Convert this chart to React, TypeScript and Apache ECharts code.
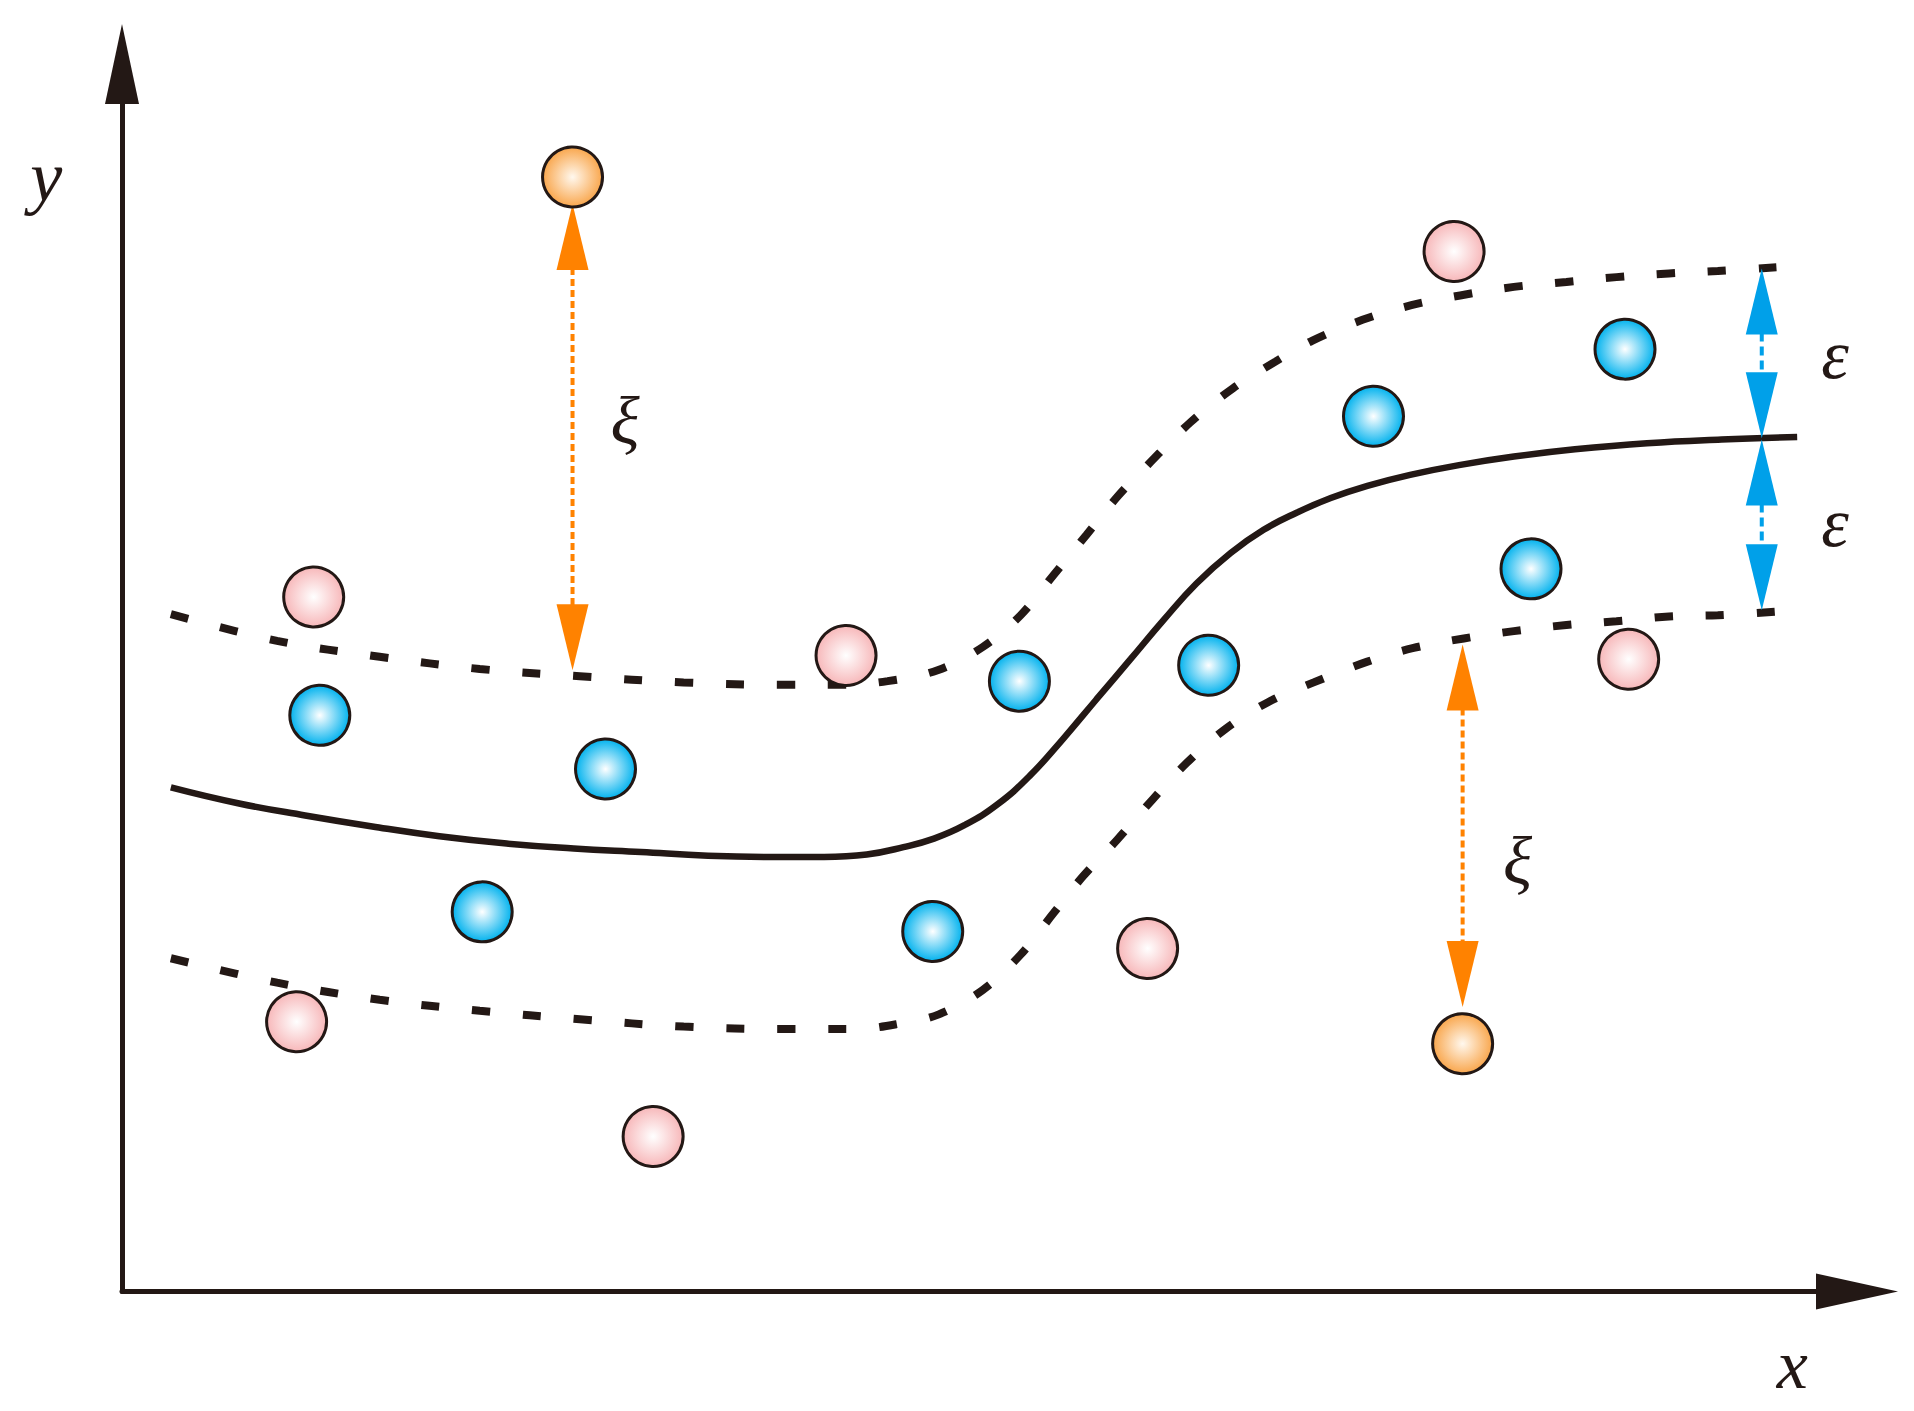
import React, { useEffect, useRef } from "react";
import * as echarts from "echarts";

// Data units: x 0..14.21, y 0..10.056
const centerCurve: [number, number][] = [
  [0.4, 4.13], [0.95, 4.0], [1.5, 3.9], [2.05, 3.81], [2.6, 3.73], [3.15, 3.67],
  [3.7, 3.63], [4.25, 3.6], [4.8, 3.57], [5.3, 3.56], [5.75, 3.56], [6.1, 3.58],
  [6.4, 3.64], [6.65, 3.71], [6.9, 3.82], [7.17, 3.99], [7.44, 4.23], [7.71, 4.53],
  [7.98, 4.85], [8.26, 5.18], [8.53, 5.5], [8.8, 5.8], [9.08, 6.05], [9.35, 6.24],
  [9.62, 6.38], [9.9, 6.5], [10.2, 6.6], [10.55, 6.69], [10.95, 6.77], [11.4, 6.84],
  [11.9, 6.9], [12.49, 6.95], [13.1, 6.98], [13.72, 7.0],
];

const upperBound: [number, number][] = [
  [0.4, 5.55], [1.27, 5.33], [2.11, 5.2], [2.93, 5.1], [3.75, 5.04], [4.6, 4.99],
  [5.44, 4.97], [5.88, 4.97], [6.27, 5.0], [6.68, 5.09], [7.05, 5.28], [7.36, 5.54],
  [7.63, 5.87], [7.9, 6.2], [8.16, 6.52], [8.4, 6.77], [8.75, 7.12], [9.1, 7.4],
  [9.45, 7.62], [9.75, 7.79], [10.16, 7.96], [10.56, 8.08], [10.96, 8.16], [11.4, 8.23],
  [11.83, 8.27], [12.24, 8.31], [12.67, 8.34], [13.07, 8.36], [13.55, 8.39],
];

const lowerBound: [number, number][] = [
  [0.4, 2.73], [1.27, 2.53], [2.11, 2.39], [2.93, 2.3], [3.75, 2.23], [4.6, 2.17],
  [5.44, 2.15], [6.0, 2.15], [6.4, 2.2], [6.69, 2.27], [7.05, 2.47], [7.36, 2.76],
  [7.63, 3.1], [7.87, 3.4], [8.15, 3.7], [8.44, 4.03], [8.72, 4.33], [9.04, 4.61],
  [9.39, 4.83], [9.76, 4.99], [10.2, 5.16], [10.57, 5.27], [10.99, 5.35], [11.4, 5.41],
  [11.83, 5.46], [12.24, 5.49], [12.67, 5.53], [13.07, 5.54], [13.55, 5.57],
];

const bluePoints: [number, number][] = [
  [1.62, 4.72], [3.96, 4.28], [2.95, 3.11], [6.64, 2.95], [7.35, 5.0],
  [8.9, 5.13], [10.25, 7.17], [12.31, 7.72], [11.54, 5.92],
];
const pinkPoints: [number, number][] = [
  [1.57, 5.69], [5.93, 5.21], [1.43, 2.21], [4.35, 1.27], [8.4, 2.81],
  [10.91, 8.52], [12.34, 5.18],
];
const orangePoints: [number, number][] = [
  [3.69, 9.13], [10.98, 2.03],
];

// double-headed arrows: [x, tip1 y, tip2 y]
const slackArrows: [number, number, number][] = [
  [3.69, 8.91, 5.09],
  [10.98, 5.3, 2.33],
];
const epsilonArrows: [number, number, number][] = [
  [13.43, 8.38, 6.99],
  [13.43, 6.98, 5.58],
];

// text labels: [x, y, text, fontSize]
const labels: [number, number, string, number][] = [
  [4.12, 7.13, "ξ", 68],
  [11.43, 3.53, "ξ", 68],
  [14.03, 7.68, "ε", 70],
  [14.03, 6.3, "ε", 70],
  [-0.62, 9.13, "y", 72],
  [13.68, -0.6, "x", 70],
];

const INK = "#231815";

function radial(inner: string, outer: string) {
  return new echarts.graphic.RadialGradient(0.5, 0.5, 0.5, [
    { offset: 0, color: inner },
    { offset: 1, color: outer },
  ]);
}

function arrowRender(color: string, dash: number[]) {
  return (params: any, api: any) => {
    const x = api.value(0);
    const a = api.coord([x, api.value(1)]);
    const b = api.coord([x, api.value(2)]);
    const cx = a[0];
    const top = Math.min(a[1], b[1]);
    const bot = Math.max(a[1], b[1]);
    const L = 66;
    const W = 32;
    return {
      type: "group",
      children: [
        {
          type: "line",
          shape: { x1: cx, y1: top + L - 2, x2: cx, y2: bot - L + 2 },
          style: { stroke: color, lineWidth: 4, lineDash: dash },
        },
        {
          type: "polygon",
          shape: { points: [[cx, top], [cx - W / 2, top + L], [cx + W / 2, top + L]] },
          style: { fill: color },
        },
        {
          type: "polygon",
          shape: { points: [[cx, bot], [cx - W / 2, bot - L], [cx + W / 2, bot - L]] },
          style: { fill: color },
        },
      ],
    };
  };
}

export default function App() {
  const ref = useRef<HTMLDivElement>(null);
  useEffect(() => {
    if (!ref.current) return;
    const chart = echarts.init(ref.current, undefined, { renderer: "svg" });
    const axisCommon = {
      type: "value" as const,
      axisTick: { show: false },
      axisLabel: { show: false },
      splitLine: { show: false },
    };
    const dashStyle = { color: INK, width: 8, type: [18, 33], cap: "butt" };
    chart.setOption({
      animation: false,
      backgroundColor: "#ffffff",
      grid: { left: 122, top: 64, right: 57, bottom: 119.5, outerBoundsMode: "none" },
      xAxis: {
        ...axisCommon,
        min: 0,
        max: 14.21,
        axisLine: {
          show: true,
          onZero: false,
          symbol: ["none", "triangle"],
          symbolSize: [36, 82],
          lineStyle: { color: INK, width: 5 },
        },
      },
      yAxis: {
        ...axisCommon,
        min: 0,
        max: 10.056,
        axisLine: {
          show: true,
          onZero: false,
          symbol: ["none", "triangle"],
          symbolSize: [34, 80],
          lineStyle: { color: INK, width: 5 },
        },
      },
      series: [
        {
          type: "line",
          data: upperBound,
          smooth: 0.35,
          symbol: "none",
          lineStyle: dashStyle,
          z: 2,
        },
        {
          type: "line",
          data: lowerBound,
          smooth: 0.35,
          symbol: "none",
          lineStyle: dashStyle,
          z: 2,
        },
        {
          type: "line",
          data: centerCurve,
          smooth: 0.45,
          symbol: "none",
          lineStyle: { color: INK, width: 6.5 },
          z: 2,
        },
        {
          type: "custom",
          data: slackArrows,
          renderItem: arrowRender("#FF8200", [7, 4]),
          z: 3,
        },
        {
          type: "custom",
          data: epsilonArrows,
          renderItem: arrowRender("#00A0E9", [9, 5]),
          z: 3,
        },
        {
          type: "scatter",
          data: bluePoints,
          symbolSize: 60,
          itemStyle: { color: radial("#FFFFFF", "#00B2EE"), borderColor: INK, borderWidth: 3, opacity: 1 },
          z: 5,
        },
        {
          type: "scatter",
          data: pinkPoints,
          symbolSize: 60,
          itemStyle: { color: radial("#FFFFFF", "#F7B7B9"), borderColor: INK, borderWidth: 3, opacity: 1 },
          z: 5,
        },
        {
          type: "scatter",
          data: orangePoints,
          symbolSize: 60,
          itemStyle: { color: radial("#FFF8EE", "#F9A64C"), borderColor: INK, borderWidth: 3, opacity: 1 },
          z: 5,
        },
        {
          type: "custom",
          data: labels,
          renderItem: (params: any, api: any) => {
            const p = api.coord([api.value(0), api.value(1)]);
            const item = labels[params.dataIndex];
            return {
              type: "text",
              x: p[0],
              y: p[1],
              style: {
                text: item[2],
                fontSize: item[3],
                fontFamily: "Liberation Serif, DejaVu Serif, serif",
                fontStyle: "italic",
                fill: INK,
                align: "center",
                verticalAlign: "middle",
              },
            };
          },
          z: 6,
        },
      ],
    });
    return () => chart.dispose();
  }, []);
  return (
    <div
      ref={ref}
      style={{ position: "absolute", left: 0, top: 0, width: 1914, height: 1411, background: "#fff" }}
    />
  );
}
